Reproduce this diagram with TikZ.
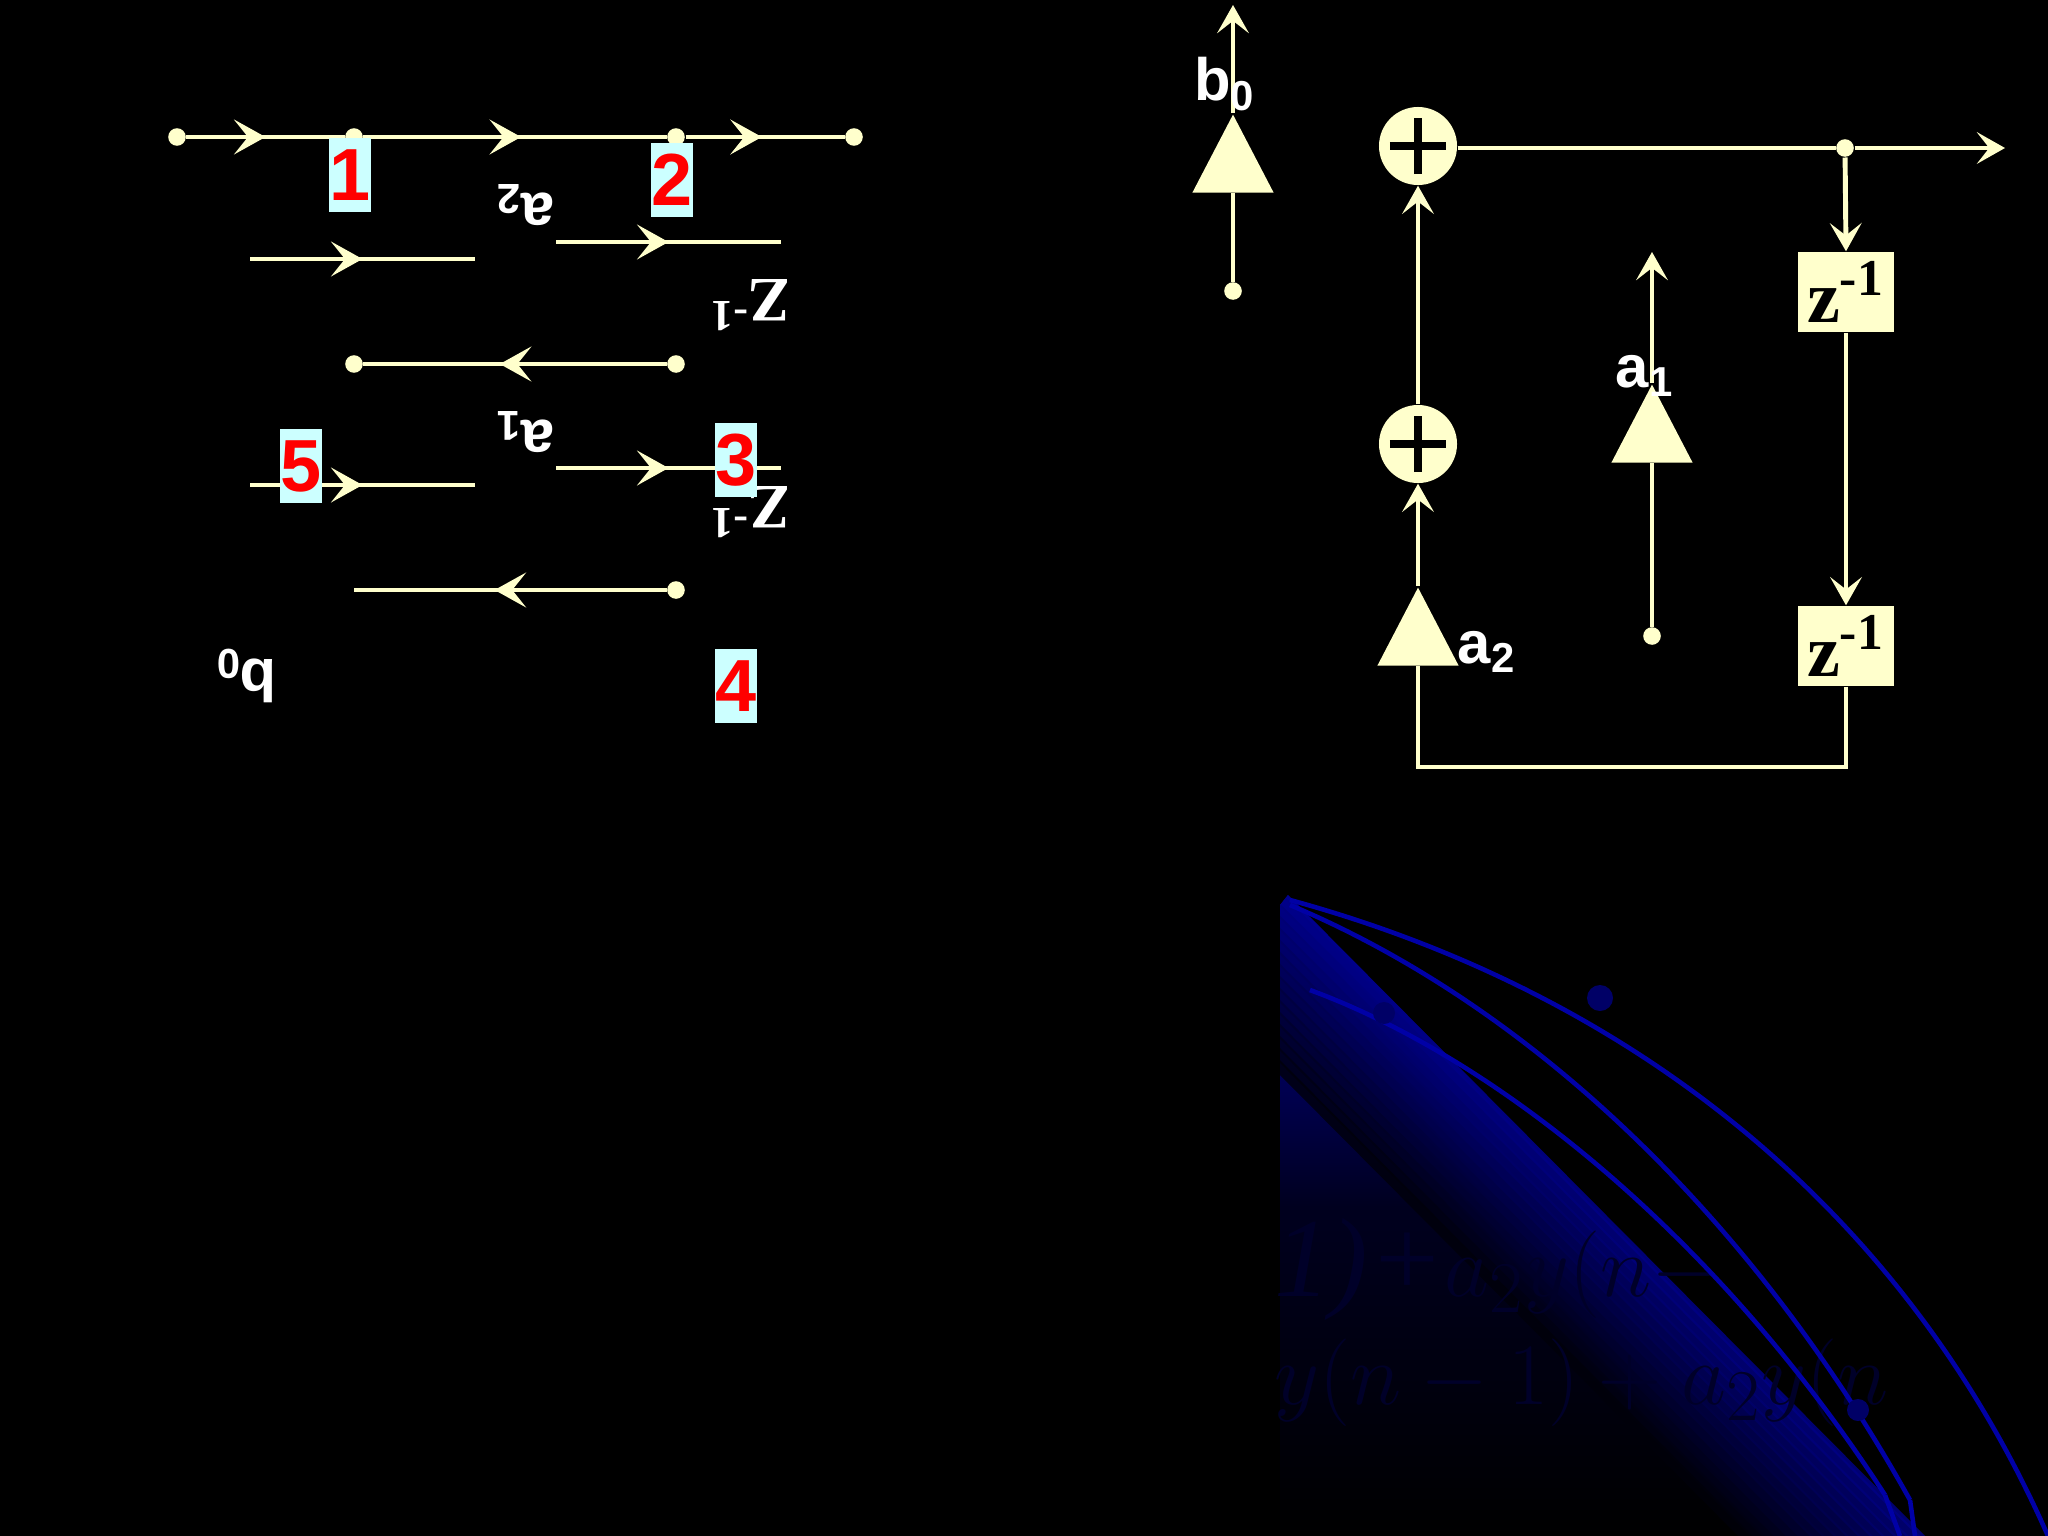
\documentclass[tikz,border=0pt]{standalone}
\usepackage{fontspec}
\setmainfont{Liberation Serif}
\setsansfont{Liberation Sans}
\usetikzlibrary{arrows.meta,decorations.markings,shapes.geometric}
\definecolor{cream}{RGB}{255,255,204}
\definecolor{lbox}{RGB}{204,255,255}
\begin{document}
\begin{tikzpicture}[x=0.01cm,y=-0.01cm,
  ln/.style={draw=cream,line width=1.4pt},
  tipa/.tip={Stealth[length=9pt,width=10pt,inset=4pt,fill=cream,line width=0.4pt]},
  marr/.style={ln,postaction={decorate},decoration={markings,mark=at position #1 with {\arrow[cream]{tipa}}}},
  dotn/.style={circle,fill=cream,inner sep=0pt,minimum size=5pt},
  num/.style={fill=lbox,text=red,font=\sffamily\bfseries\fontsize{21}{21}\selectfont,inner sep=0pt,minimum width=10.5pt,minimum height=21pt},
  lab/.style={text=white,font=\sffamily\bfseries\fontsize{17}{17}\selectfont},
  zl/.style={text=white,font=\bfseries\fontsize{18}{18}\selectfont},
  tri/.style={isosceles triangle,shape border rotate=90,fill=cream,inner sep=0pt,minimum width=80*0.2845pt,minimum height=78*0.2845pt,isosceles triangle apex angle=55},
  add/.style={circle,fill=cream,minimum size=78*0.2845pt,inner sep=0pt},
  zbox/.style={fill=cream,minimum width=96*0.2845pt,minimum height=80*0.2845pt,inner sep=0pt,font=\bfseries\fontsize{21}{21}\selectfont},
  oarr/.style={ln,-{Stealth[length=8pt,width=9pt,inset=3.5pt,fill=cream]}},
  eqt/.style={anchor=base west,text=black!84!blue,font=\itshape\fontsize{32}{32}\selectfont}
]
\fill[black] (0,0) rectangle (2048,1536);
\useasboundingbox (0,0) rectangle (2048,1536);
% blue decorative shape
\begin{scope}
\clip (1280,905) -- (1288,895) -- (1925,1536) -- (1280,1536) -- cycle;
\shade[left color=blue!65!black,right color=black,middle color=black!88!blue,shading angle=0] (1280,880) rectangle (1930,1536);
\foreach \i in {0,...,15} {
  \pgfmathsetmacro{\c}{max(0,55-3.4*\i)}
  \draw[blue!\c!black,opacity=0.8,line width=3pt] (1288-6*\i,895+6*\i) -- (1925-6*\i,1536+6*\i);
}
\end{scope}
\node[eqt] (eq1) at (1262,1296) {1)+$a_2y(n-$};
\node[eqt] (eq2) at (1262,1404) {$y(n-1)+a_2y(n$};
\draw[blue!65!black,line width=1.3pt] (1290,900) .. controls (1620,990) and (1900,1200) .. (2048,1536);
\draw[blue!65!black,line width=1.3pt] (1290,905) .. controls (1540,1010) and (1760,1230) .. (1910,1500);
\draw[blue!65!black,line width=1.3pt] (1310,990) .. controls (1500,1060) and (1720,1240) .. (1885,1495);
\draw[blue!65!black,line width=1.3pt] (1885,1495) -- (1900,1536) (1910,1500) -- (1915,1536);
\fill[blue!40!black] (1600,998) circle (13);
\fill[blue!40!black] (1384,1013) circle (11);
\fill[blue!40!black] (1858,1410) circle (11);
% ===== left flipped diagram =====
\node[dotn] (t0) at (177,137) {};
\node[dotn] (t1) at (354,137) {};
\node[dotn] (t2) at (676,137) {};
\node[dotn] (t3) at (854,137) {};
\draw[marr=0.5] (t0) -- (t1);
\draw[marr=0.52] (t1) -- (t2);
\draw[marr=0.48] (t2) -- (t3);
\coordinate (r2a) at (250,259); \coordinate (r2b) at (475,259);
\draw[marr=0.5] (r2a) -- (r2b);
\coordinate (r2c) at (556,242); \coordinate (r2d) at (781,242);
\draw[marr=0.5] (r2c) -- (r2d);
\node[dotn] (m1) at (354,364) {};
\node[dotn] (m2) at (676,364) {};
\draw[marr=0.55] (m2) -- (m1);
\coordinate (r4a) at (250,485); \coordinate (r4b) at (475,485);
\draw[marr=0.5] (r4a) -- (r4b);
\coordinate (r4c) at (556,468); \coordinate (r4d) at (781,468);
\draw[marr=0.5] (r4c) -- (r4d);
\node[dotn] (b2) at (676,590) {};
\coordinate (b1) at (354,590);
\draw[marr=0.55] (b2) -- (b1);
\node[lab,rotate=180] (la2) at (525,205) {a\textsubscript{2}};
\node[lab,rotate=180] (la1) at (525,432) {a\textsubscript{1}};
\node[lab,rotate=180] (lb0) at (246,676) {b\textsubscript{0}};
\node[zl,rotate=180] (lz1) at (750,305) {Z\textsuperscript{-1}};
\node[zl,rotate=180] (lz2) at (750,512) {Z\textsuperscript{-1}};
\node[num] (n1) at (350,175) {1};
\node[num] (n2) at (672,180) {2};
\node[num] (n3) at (736,460) {3};
\node[num] (n4) at (736,686) {4};
\node[num] (n5) at (301,466) {5};
% ===== right diagram =====
\node[dotn] (bin) at (1233,291) {};
\coordinate (btop) at (1233,5);
\node[tri] (tb0) at (1233,168) {};
\draw[ln] (bin) -- (tb0.south);
\draw[oarr] (tb0.apex) -- (btop);
\node[lab] (lbb) at (1225,84) {b\textsubscript{0}};
\node[add] (ad1) at (1418,146) {};
\draw[black,line width=2.2pt] ([xshift=-8pt]ad1.center) -- ([xshift=8pt]ad1.center) ([yshift=-8pt]ad1.center) -- ([yshift=8pt]ad1.center);
\node[add] (ad2) at (1418,444) {};
\draw[black,line width=2.2pt] ([xshift=-8pt]ad2.center) -- ([xshift=8pt]ad2.center) ([yshift=-8pt]ad2.center) -- ([yshift=8pt]ad2.center);
\node[dotn] (sp) at (1845,148) {};
\coordinate (out) at (2005,148);
\draw[ln] (ad1.east |- sp) -- (sp);
\draw[oarr] (sp) -- (out);
\node[zbox] (z1) at (1846,292) {z\textsuperscript{-1}};
\node[zbox] (z2) at (1846,646) {z\textsuperscript{-1}};
\draw[oarr] (sp) -- (z1.north);
\draw[oarr] (z1.south) -- (z2.north);
\coordinate (bl) at (1846,767);
\coordinate (br) at (1418,767);
\node[tri] (ta2) at (1418,641) {};
\draw[ln] (z2.south) -- (bl) -- (br) -- (ta2.south);
\draw[oarr] (ta2.apex) -- (ad2.south);
\draw[oarr] (ad2.north) -- (ad1.south);
\node[lab] (la2r) at (1487,652) {a\textsubscript{2}};
\node[dotn] (a1in) at (1652,636) {};
\coordinate (a1top) at (1652,252);
\node[tri] (ta1) at (1652,438) {};
\draw[ln] (a1in) -- (ta1.south);
\draw[oarr] (ta1.apex) -- (a1top);
\node[lab] (la1r) at (1645,376) {a\textsubscript{1}};
\end{tikzpicture}
\end{document}
